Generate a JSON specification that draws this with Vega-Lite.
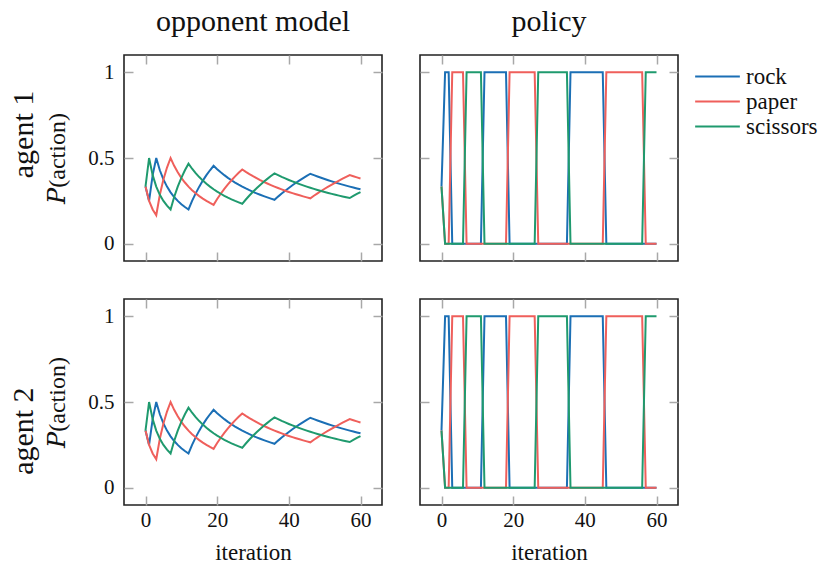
{
  "$schema": "https://vega.github.io/schema/vega-lite/v6.json",
  "padding": {"left": 8, "top": 6, "right": 5, "bottom": 5},
  "background": "white",
  "datasets": {
    "model": [
      {"t":0,"rock":0.3333,"paper":0.3333,"scissors":0.3333},
      {"t":1,"rock":0.25,"paper":0.25,"scissors":0.5},
      {"t":2,"rock":0.4,"paper":0.2,"scissors":0.4},
      {"t":3,"rock":0.5,"paper":0.1667,"scissors":0.3333},
      {"t":4,"rock":0.4286,"paper":0.2857,"scissors":0.2857},
      {"t":5,"rock":0.375,"paper":0.375,"scissors":0.25},
      {"t":6,"rock":0.3333,"paper":0.4444,"scissors":0.2222},
      {"t":7,"rock":0.3,"paper":0.5,"scissors":0.2},
      {"t":8,"rock":0.2727,"paper":0.4545,"scissors":0.2727},
      {"t":9,"rock":0.25,"paper":0.4167,"scissors":0.3333},
      {"t":10,"rock":0.2308,"paper":0.3846,"scissors":0.3846},
      {"t":11,"rock":0.2143,"paper":0.3571,"scissors":0.4286},
      {"t":12,"rock":0.2,"paper":0.3333,"scissors":0.4667},
      {"t":13,"rock":0.25,"paper":0.3125,"scissors":0.4375},
      {"t":14,"rock":0.2941,"paper":0.2941,"scissors":0.4118},
      {"t":15,"rock":0.3333,"paper":0.2778,"scissors":0.3889},
      {"t":16,"rock":0.3684,"paper":0.2632,"scissors":0.3684},
      {"t":17,"rock":0.4,"paper":0.25,"scissors":0.35},
      {"t":18,"rock":0.4286,"paper":0.2381,"scissors":0.3333},
      {"t":19,"rock":0.4545,"paper":0.2273,"scissors":0.3182},
      {"t":20,"rock":0.4348,"paper":0.2609,"scissors":0.3043},
      {"t":21,"rock":0.4167,"paper":0.2917,"scissors":0.2917},
      {"t":22,"rock":0.4,"paper":0.32,"scissors":0.28},
      {"t":23,"rock":0.3846,"paper":0.3462,"scissors":0.2692},
      {"t":24,"rock":0.3704,"paper":0.3704,"scissors":0.2593},
      {"t":25,"rock":0.3571,"paper":0.3929,"scissors":0.25},
      {"t":26,"rock":0.3448,"paper":0.4138,"scissors":0.2414},
      {"t":27,"rock":0.3333,"paper":0.4333,"scissors":0.2333},
      {"t":28,"rock":0.3226,"paper":0.4194,"scissors":0.2581},
      {"t":29,"rock":0.3125,"paper":0.4063,"scissors":0.2813},
      {"t":30,"rock":0.303,"paper":0.3939,"scissors":0.303},
      {"t":31,"rock":0.2941,"paper":0.3824,"scissors":0.3235},
      {"t":32,"rock":0.2857,"paper":0.3714,"scissors":0.3429},
      {"t":33,"rock":0.2778,"paper":0.3611,"scissors":0.3611},
      {"t":34,"rock":0.2703,"paper":0.3514,"scissors":0.3784},
      {"t":35,"rock":0.2632,"paper":0.3421,"scissors":0.3947},
      {"t":36,"rock":0.2564,"paper":0.3333,"scissors":0.4103},
      {"t":37,"rock":0.275,"paper":0.325,"scissors":0.4},
      {"t":38,"rock":0.2927,"paper":0.3171,"scissors":0.3902},
      {"t":39,"rock":0.3095,"paper":0.3095,"scissors":0.381},
      {"t":40,"rock":0.3256,"paper":0.3023,"scissors":0.3721},
      {"t":41,"rock":0.3409,"paper":0.2955,"scissors":0.3636},
      {"t":42,"rock":0.3556,"paper":0.2889,"scissors":0.3556},
      {"t":43,"rock":0.3696,"paper":0.2826,"scissors":0.3478},
      {"t":44,"rock":0.383,"paper":0.2766,"scissors":0.3404},
      {"t":45,"rock":0.3958,"paper":0.2708,"scissors":0.3333},
      {"t":46,"rock":0.4082,"paper":0.2653,"scissors":0.3265},
      {"t":47,"rock":0.4,"paper":0.28,"scissors":0.32},
      {"t":48,"rock":0.3922,"paper":0.2941,"scissors":0.3137},
      {"t":49,"rock":0.3846,"paper":0.3077,"scissors":0.3077},
      {"t":50,"rock":0.3774,"paper":0.3208,"scissors":0.3019},
      {"t":51,"rock":0.3704,"paper":0.3333,"scissors":0.2963},
      {"t":52,"rock":0.3636,"paper":0.3455,"scissors":0.2909},
      {"t":53,"rock":0.3571,"paper":0.3571,"scissors":0.2857},
      {"t":54,"rock":0.3509,"paper":0.3684,"scissors":0.2807},
      {"t":55,"rock":0.3448,"paper":0.3793,"scissors":0.2759},
      {"t":56,"rock":0.339,"paper":0.3898,"scissors":0.2712},
      {"t":57,"rock":0.3333,"paper":0.4,"scissors":0.2667},
      {"t":58,"rock":0.3279,"paper":0.3934,"scissors":0.2787},
      {"t":59,"rock":0.3226,"paper":0.3871,"scissors":0.2903},
      {"t":60,"rock":0.3175,"paper":0.381,"scissors":0.3016}
    ],
    "policy": [
      {"t":0,"rock":0.3333,"paper":0.3333,"scissors":0.3333},
      {"t":1,"rock":1,"paper":0,"scissors":0},
      {"t":2,"rock":1,"paper":0,"scissors":0},
      {"t":3,"rock":0,"paper":1,"scissors":0},
      {"t":4,"rock":0,"paper":1,"scissors":0},
      {"t":5,"rock":0,"paper":1,"scissors":0},
      {"t":6,"rock":0,"paper":1,"scissors":0},
      {"t":7,"rock":0,"paper":0,"scissors":1},
      {"t":8,"rock":0,"paper":0,"scissors":1},
      {"t":9,"rock":0,"paper":0,"scissors":1},
      {"t":10,"rock":0,"paper":0,"scissors":1},
      {"t":11,"rock":0,"paper":0,"scissors":1},
      {"t":12,"rock":1,"paper":0,"scissors":0},
      {"t":13,"rock":1,"paper":0,"scissors":0},
      {"t":14,"rock":1,"paper":0,"scissors":0},
      {"t":15,"rock":1,"paper":0,"scissors":0},
      {"t":16,"rock":1,"paper":0,"scissors":0},
      {"t":17,"rock":1,"paper":0,"scissors":0},
      {"t":18,"rock":1,"paper":0,"scissors":0},
      {"t":19,"rock":0,"paper":1,"scissors":0},
      {"t":20,"rock":0,"paper":1,"scissors":0},
      {"t":21,"rock":0,"paper":1,"scissors":0},
      {"t":22,"rock":0,"paper":1,"scissors":0},
      {"t":23,"rock":0,"paper":1,"scissors":0},
      {"t":24,"rock":0,"paper":1,"scissors":0},
      {"t":25,"rock":0,"paper":1,"scissors":0},
      {"t":26,"rock":0,"paper":1,"scissors":0},
      {"t":27,"rock":0,"paper":0,"scissors":1},
      {"t":28,"rock":0,"paper":0,"scissors":1},
      {"t":29,"rock":0,"paper":0,"scissors":1},
      {"t":30,"rock":0,"paper":0,"scissors":1},
      {"t":31,"rock":0,"paper":0,"scissors":1},
      {"t":32,"rock":0,"paper":0,"scissors":1},
      {"t":33,"rock":0,"paper":0,"scissors":1},
      {"t":34,"rock":0,"paper":0,"scissors":1},
      {"t":35,"rock":0,"paper":0,"scissors":1},
      {"t":36,"rock":1,"paper":0,"scissors":0},
      {"t":37,"rock":1,"paper":0,"scissors":0},
      {"t":38,"rock":1,"paper":0,"scissors":0},
      {"t":39,"rock":1,"paper":0,"scissors":0},
      {"t":40,"rock":1,"paper":0,"scissors":0},
      {"t":41,"rock":1,"paper":0,"scissors":0},
      {"t":42,"rock":1,"paper":0,"scissors":0},
      {"t":43,"rock":1,"paper":0,"scissors":0},
      {"t":44,"rock":1,"paper":0,"scissors":0},
      {"t":45,"rock":1,"paper":0,"scissors":0},
      {"t":46,"rock":0,"paper":1,"scissors":0},
      {"t":47,"rock":0,"paper":1,"scissors":0},
      {"t":48,"rock":0,"paper":1,"scissors":0},
      {"t":49,"rock":0,"paper":1,"scissors":0},
      {"t":50,"rock":0,"paper":1,"scissors":0},
      {"t":51,"rock":0,"paper":1,"scissors":0},
      {"t":52,"rock":0,"paper":1,"scissors":0},
      {"t":53,"rock":0,"paper":1,"scissors":0},
      {"t":54,"rock":0,"paper":1,"scissors":0},
      {"t":55,"rock":0,"paper":1,"scissors":0},
      {"t":56,"rock":0,"paper":1,"scissors":0},
      {"t":57,"rock":0,"paper":0,"scissors":1},
      {"t":58,"rock":0,"paper":0,"scissors":1},
      {"t":59,"rock":0,"paper":0,"scissors":1},
      {"t":60,"rock":0,"paper":0,"scissors":1}
    ]
  },
  "config": {
    "font": "Liberation Serif",
    "view": {"stroke": "#222", "strokeWidth": 1.6},
    "axis": {
      "domain": false, "grid": false,
      "tickColor": "#a8a8a8", "tickSize": -9, "tickWidth": 1.5,
      "labelFont": "Liberation Serif", "labelFontSize": 21, "labelColor": "#111",
      "titleFont": "Liberation Serif, DejaVu Serif", "titleFontSize": 23, "titleFontWeight": "normal", "titleColor": "#111"
    },
    "title": {"font": "Liberation Serif", "fontSize": 30, "fontWeight": "normal", "color": "#111"},
    "legend": {"labelFont": "Liberation Serif", "labelFontSize": 23, "labelColor": "#111"},
    "concat": {"spacing": 34},
    "line": {"strokeWidth": 2}
  },
  "vconcat": [
    {
      "title": {"text": "agent 1", "orient": "left", "anchor": "middle", "font": "Liberation Serif", "fontSize": 30, "offset": 6},
      "hconcat": [
        {
          "width": 258, "height": 206,
          "title": {"text": "opponent model", "font": "Liberation Serif", "offset": 17},
          "data": {"name": "model"},
          "transform": [{"fold": ["rock", "paper", "scissors"], "as": ["action", "p"]}],
          "layer": [
            {"mark": {"type": "line"},
             "encoding": {
               "x": {"field": "t", "type": "quantitative", "scale": {"domain": [-6, 66], "nice": false, "zero": false}, "axis": {"orient": "bottom", "values": [0, 20, 40, 60], "labels": false, "title": null}},
               "y": {"field": "p", "type": "quantitative", "scale": {"domain": [-0.1, 1.1], "nice": false, "zero": false}, "axis": {"orient": "left", "values": [0, 0.5, 1], "labelExpr": "datum.value", "labelPadding": 19, "title": "𝑃(action)", "titleFontSize": 24, "titlePadding": 18}},
               "color": {"field": "action", "type": "nominal", "sort": ["rock", "paper", "scissors"], "scale": {"domain": ["rock", "paper", "scissors"], "range": ["#1b6fb5", "#ef5f5b", "#1f9a6e"]}, "legend": {"title": null, "symbolType": "M-2,0H2", "symbolSize": 500, "symbolStrokeWidth": 2, "labelOffset": 16, "rowPadding": -4, "offset": 16, "padding": 9, "labelFont": "Liberation Serif"}}
             }},
            {"mark": {"type": "line", "opacity": 0},
             "encoding": {
               "x": {"field": "t", "type": "quantitative", "axis": {"orient": "top", "values": [0, 20, 40, 60], "labels": false, "title": null}},
               "y": {"field": "p", "type": "quantitative", "axis": {"orient": "right", "values": [0, 0.5, 1], "labels": false, "title": null}}
             }}
          ],
          "resolve": {"axis": {"x": "independent", "y": "independent"}}
        },
        {
          "width": 258, "height": 206,
          "title": {"text": "policy", "font": "Liberation Serif", "offset": 17},
          "data": {"name": "policy"},
          "transform": [{"fold": ["rock", "paper", "scissors"], "as": ["action", "p"]}],
          "layer": [
            {"mark": {"type": "line"},
             "encoding": {
               "x": {"field": "t", "type": "quantitative", "scale": {"domain": [-6, 66], "nice": false, "zero": false}, "axis": {"orient": "bottom", "values": [0, 20, 40, 60], "labels": false, "title": null}},
               "y": {"field": "p", "type": "quantitative", "scale": {"domain": [-0.1, 1.1], "nice": false, "zero": false}, "axis": {"orient": "left", "values": [0, 0.5, 1], "labels": false, "title": null}},
               "color": {"field": "action", "type": "nominal", "sort": ["rock", "paper", "scissors"], "scale": {"domain": ["rock", "paper", "scissors"], "range": ["#1b6fb5", "#ef5f5b", "#1f9a6e"]}}
             }},
            {"mark": {"type": "line", "opacity": 0},
             "encoding": {
               "x": {"field": "t", "type": "quantitative", "axis": {"orient": "top", "values": [0, 20, 40, 60], "labels": false, "title": null}},
               "y": {"field": "p", "type": "quantitative", "axis": {"orient": "right", "values": [0, 0.5, 1], "labels": false, "title": null}}
             }}
          ],
          "resolve": {"axis": {"x": "independent", "y": "independent"}}
        }
      ]
    },
    {
      "title": {"text": "agent 2", "orient": "left", "anchor": "middle", "font": "Liberation Serif", "fontSize": 30, "offset": 6},
      "hconcat": [
        {
          "width": 258, "height": 206,
          "data": {"name": "model"},
          "transform": [{"fold": ["rock", "paper", "scissors"], "as": ["action", "p"]}],
          "layer": [
            {"mark": {"type": "line"},
             "encoding": {
               "x": {"field": "t", "type": "quantitative", "scale": {"domain": [-6, 66], "nice": false, "zero": false}, "axis": {"orient": "bottom", "values": [0, 20, 40, 60], "labelPadding": 13, "title": "iteration", "titlePadding": 11}},
               "y": {"field": "p", "type": "quantitative", "scale": {"domain": [-0.1, 1.1], "nice": false, "zero": false}, "axis": {"orient": "left", "values": [0, 0.5, 1], "labelExpr": "datum.value", "labelPadding": 19, "title": "𝑃(action)", "titleFontSize": 24, "titlePadding": 18}},
               "color": {"field": "action", "type": "nominal", "sort": ["rock", "paper", "scissors"], "scale": {"domain": ["rock", "paper", "scissors"], "range": ["#1b6fb5", "#ef5f5b", "#1f9a6e"]}}
             }},
            {"mark": {"type": "line", "opacity": 0},
             "encoding": {
               "x": {"field": "t", "type": "quantitative", "axis": {"orient": "top", "values": [0, 20, 40, 60], "labels": false, "title": null}},
               "y": {"field": "p", "type": "quantitative", "axis": {"orient": "right", "values": [0, 0.5, 1], "labels": false, "title": null}}
             }}
          ],
          "resolve": {"axis": {"x": "independent", "y": "independent"}}
        },
        {
          "width": 258, "height": 206,
          "data": {"name": "policy"},
          "transform": [{"fold": ["rock", "paper", "scissors"], "as": ["action", "p"]}],
          "layer": [
            {"mark": {"type": "line"},
             "encoding": {
               "x": {"field": "t", "type": "quantitative", "scale": {"domain": [-6, 66], "nice": false, "zero": false}, "axis": {"orient": "bottom", "values": [0, 20, 40, 60], "labelPadding": 13, "title": "iteration", "titlePadding": 11}},
               "y": {"field": "p", "type": "quantitative", "scale": {"domain": [-0.1, 1.1], "nice": false, "zero": false}, "axis": {"orient": "left", "values": [0, 0.5, 1], "labels": false, "title": null}},
               "color": {"field": "action", "type": "nominal", "sort": ["rock", "paper", "scissors"], "scale": {"domain": ["rock", "paper", "scissors"], "range": ["#1b6fb5", "#ef5f5b", "#1f9a6e"]}}
             }},
            {"mark": {"type": "line", "opacity": 0},
             "encoding": {
               "x": {"field": "t", "type": "quantitative", "axis": {"orient": "top", "values": [0, 20, 40, 60], "labels": false, "title": null}},
               "y": {"field": "p", "type": "quantitative", "axis": {"orient": "right", "values": [0, 0.5, 1], "labels": false, "title": null}}
             }}
          ],
          "resolve": {"axis": {"x": "independent", "y": "independent"}}
        }
      ]
    }
  ],
  "resolve": {"scale": {"color": "shared"}}
}
